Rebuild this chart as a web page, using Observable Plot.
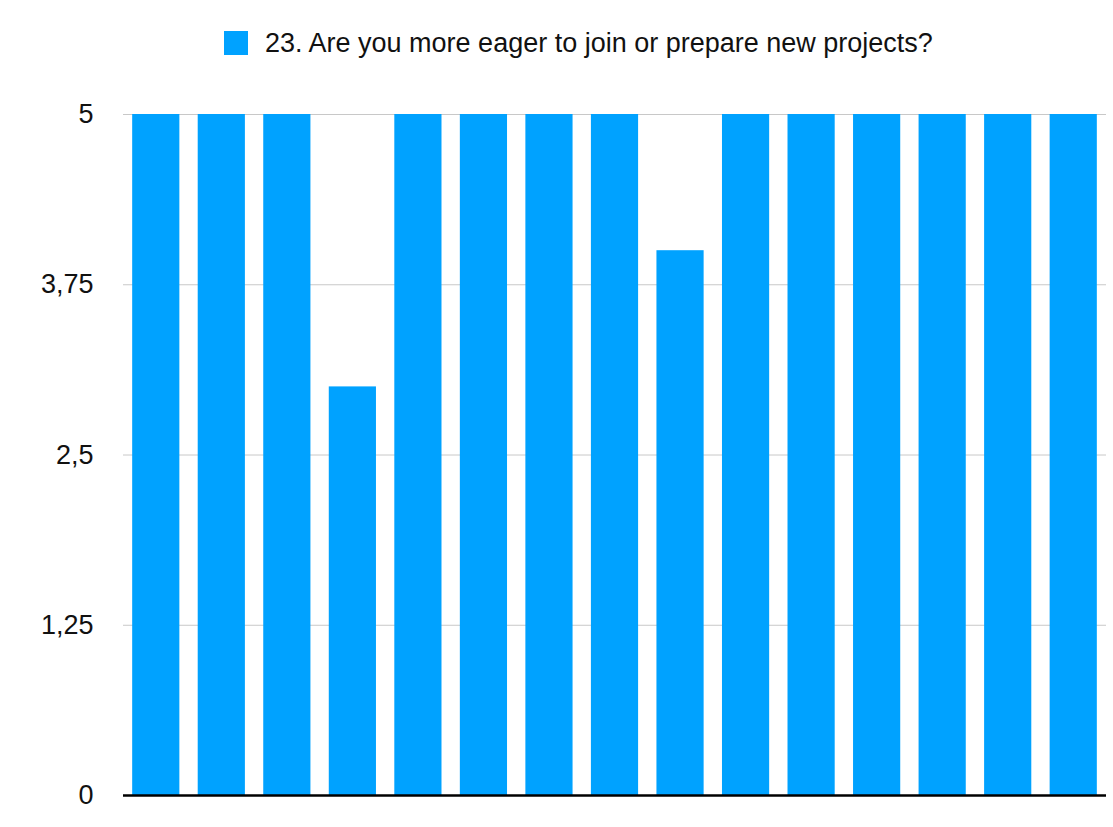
<!DOCTYPE html>
<html>
<head>
<meta charset="utf-8">
<script src="https://cdn.jsdelivr.net/npm/d3@7"></script>
<script src="https://cdn.jsdelivr.net/npm/@observablehq/plot@0.6"></script>
<style>
  html, body { margin: 0; padding: 0; background: #fff; }
  body { width: 1113px; height: 827px; overflow: hidden; font-family: "Liberation Sans", Arial, Helvetica, sans-serif; }
  #legend { height: 80px; position: relative; }
  #legend .sw { position: absolute; left: 224px; top: 31px; width: 24px; height: 24px; background: #00A2FF; }
  #legend .lb { position: absolute; left: 265px; top: 28px; font-size: 27px; line-height: 30px; color: #111; white-space: nowrap; }
</style>
</head>
<body>
<div id="legend"><div class="sw"></div><div class="lb"></div></div>
<div id="chart"></div>
<script>
const seriesName = "23. Are you more eager to join or prepare new projects?";
const categories = ["1","2","3","4","5","6","7","8","9","10","11","12","13","14","15"];
const values = [5, 5, 5, 3, 5, 5, 5, 5, 4, 5, 5, 5, 5, 5, 5];
const yTicks = [0, 1.25, 2.5, 3.75, 5];

document.querySelector("#legend .lb").textContent = seriesName;

const data = categories.map((c, i) => ({category: c, value: values[i]}));

const chart = Plot.plot({
  width: 1113,
  height: 747,
  marginLeft: 123,
  marginRight: 7,
  marginTop: 34,
  marginBottom: 32,
  style: {fontFamily: "'Liberation Sans', Arial, Helvetica, sans-serif", fontSize: "27px", color: "#111", background: "#fff"},
  x: {domain: categories, paddingInner: 0.28, paddingOuter: 0.14, round: false, axis: null},
  y: {domain: [0, 5], ticks: yTicks, label: null, tickFormat: d => String(d).replace(".", ",")},
  marks: [
    Plot.ruleY(yTicks.filter(d => d > 0), {stroke: "#c8c8c8", strokeWidth: 1}),
    Plot.barY(data, {x: "category", y: "value", fill: "#00A2FF"}),
    Plot.axisY({ticks: yTicks, tickSize: 0, tickPadding: 30, fontSize: 27, label: null, tickFormat: d => String(d).replace(".", ",")}),
    Plot.ruleY([0], {stroke: "#000", strokeWidth: 2.5})
  ]
});
document.getElementById("chart").appendChild(chart);
</script>
</body>
</html>
